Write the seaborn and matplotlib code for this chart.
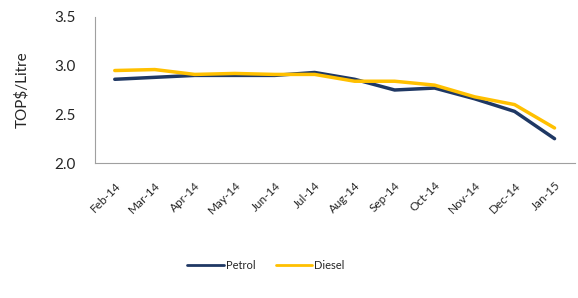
import numpy as np
import pandas as pd
import seaborn as sns
import matplotlib.pyplot as plt

months = ['Feb-14', 'Mar-14', 'Apr-14', 'May-14', 'Jun-14', 'Jul-14',
          'Aug-14', 'Sep-14', 'Oct-14', 'Nov-14', 'Dec-14', 'Jan-15']
petrol = [2.86, 2.88, 2.90, 2.90, 2.90, 2.93, 2.86, 2.75, 2.77, 2.66, 2.53, 2.25]
diesel = [2.95, 2.96, 2.91, 2.92, 2.91, 2.91, 2.84, 2.84, 2.80, 2.68, 2.60, 2.36]

df = pd.DataFrame({'month': months * 2,
                   'price': petrol + diesel,
                   'fuel': ['Petrol'] * len(months) + ['Diesel'] * len(months)})

sns.set_style('white')
plt.rcParams['font.family'] = ['Lato', 'DejaVu Sans']

fig = plt.figure(figsize=(5.78, 2.98), dpi=100)
ax = fig.add_axes([0.164, 0.453, 0.83, 0.49])

sns.lineplot(data=df, x='month', y='price', hue='fuel',
             palette={'Petrol': '#1f3864', 'Diesel': '#ffc000'},
             linewidth=2.5, sort=False, ax=ax)

ax.set_xlim(-0.5, len(months) - 0.5)
ax.set_ylim(2.0, 3.5)
ax.set_yticks([2.0, 2.5, 3.0, 3.5])
ax.set_yticklabels(['2.0', '2.5', '3.0', '3.5'], fontsize=11)
ax.set_xticks(range(len(months)))
ax.set_xticklabels(months, rotation=45, ha='right', rotation_mode='anchor', fontsize=8.5)
ax.tick_params(axis='y', length=0, pad=14)
ax.tick_params(axis='x', length=0, pad=12)
ax.set_xlabel('')
ax.set_ylabel('TOP$/Litre', fontsize=11, labelpad=18)

for s in ['top', 'right']:
    ax.spines[s].set_visible(False)
for s in ['left', 'bottom']:
    ax.spines[s].set_color('#a0a0a0')
    ax.spines[s].set_linewidth(0.8)

leg = ax.legend(loc='center', bbox_to_anchor=(0.46, 0.11), bbox_transform=fig.transFigure,
                ncol=2, frameon=False, fontsize=8, handlelength=3.3, handletextpad=0.2,
                columnspacing=1.8)
for line in leg.get_lines():
    line.set_linewidth(2)

plt.savefig('out.png', dpi=100)
